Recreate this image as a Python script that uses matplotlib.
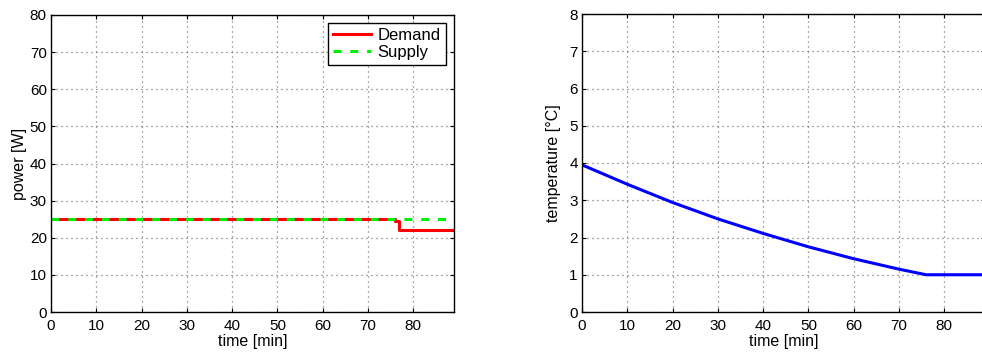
import numpy as np
import matplotlib.pyplot as plt

plt.rcParams['font.family'] = ['Liberation Sans', 'DejaVu Sans']
plt.rcParams['font.size'] = 11

# power data [W]
t_power = [0, 75.9, 75.9, 76.9, 76.9, 89]
demand = [25, 25, 24.4, 24.4, 22.2, 22.2]
t_supply = [0, 89]
supply = [25, 25]

# temperature data [°C]
t_temp = [0, 10, 20, 30, 40, 50, 60, 70, 76, 89]
temp = [3.95, 3.43, 2.94, 2.50, 2.11, 1.75, 1.43, 1.15, 1.0, 1.0]


def matlab_style(ax):
    ax.grid(True, linestyle=(0, (0.8, 3.2)), color='0.35', linewidth=0.9)
    ax.tick_params(direction='in', top=True, right=True, length=3, width=0.8,
                   labelsize=11)
    ax.tick_params(axis='x', pad=5)
    ax.tick_params(axis='y', pad=3)
    for s in ax.spines.values():
        s.set_linewidth(1.0)


fig = plt.figure(figsize=(9.82, 3.56), dpi=100)

ax1 = fig.add_axes([51 / 982, 44 / 356, 403 / 982, 297 / 356])
ax1.plot(t_power, demand, color='red', linewidth=2.2, label='Demand')
ax1.plot(t_supply, supply, color='#00ee00', linestyle='--', linewidth=2.2,
         dashes=(2.6, 2.9), label='Supply')
ax1.set_xlim(0, 89)
ax1.set_ylim(0, 80)
ax1.set_xticks(range(0, 90, 10))
ax1.set_yticks(range(0, 90, 10))
ax1.set_xlabel('time [min]', fontsize=11.5, labelpad=1)
ax1.set_ylabel('power [W]', fontsize=11.5, labelpad=2)
matlab_style(ax1)
leg = ax1.legend(loc='upper right', fancybox=False, framealpha=1,
                 edgecolor='k', fontsize=12, handlelength=2.3,
                 borderaxespad=0.5, labelspacing=0.1, handletextpad=0.4,
                 borderpad=0.3)
leg.get_frame().set_linewidth(1.0)

ax2 = fig.add_axes([582 / 982, 44 / 356, 403 / 982, 298 / 356])
ax2.plot(t_temp, temp, color='blue', linewidth=2.2)
ax2.set_xlim(0, 89)
ax2.set_ylim(0, 8)
ax2.set_xticks(range(0, 90, 10))
ax2.set_yticks(range(0, 9))
ax2.set_xlabel('time [min]', fontsize=11.5, labelpad=1)
ax2.set_ylabel('temperature [°C]', fontsize=11.5, labelpad=6)
matlab_style(ax2)

fig.savefig('out.png', dpi=100)
